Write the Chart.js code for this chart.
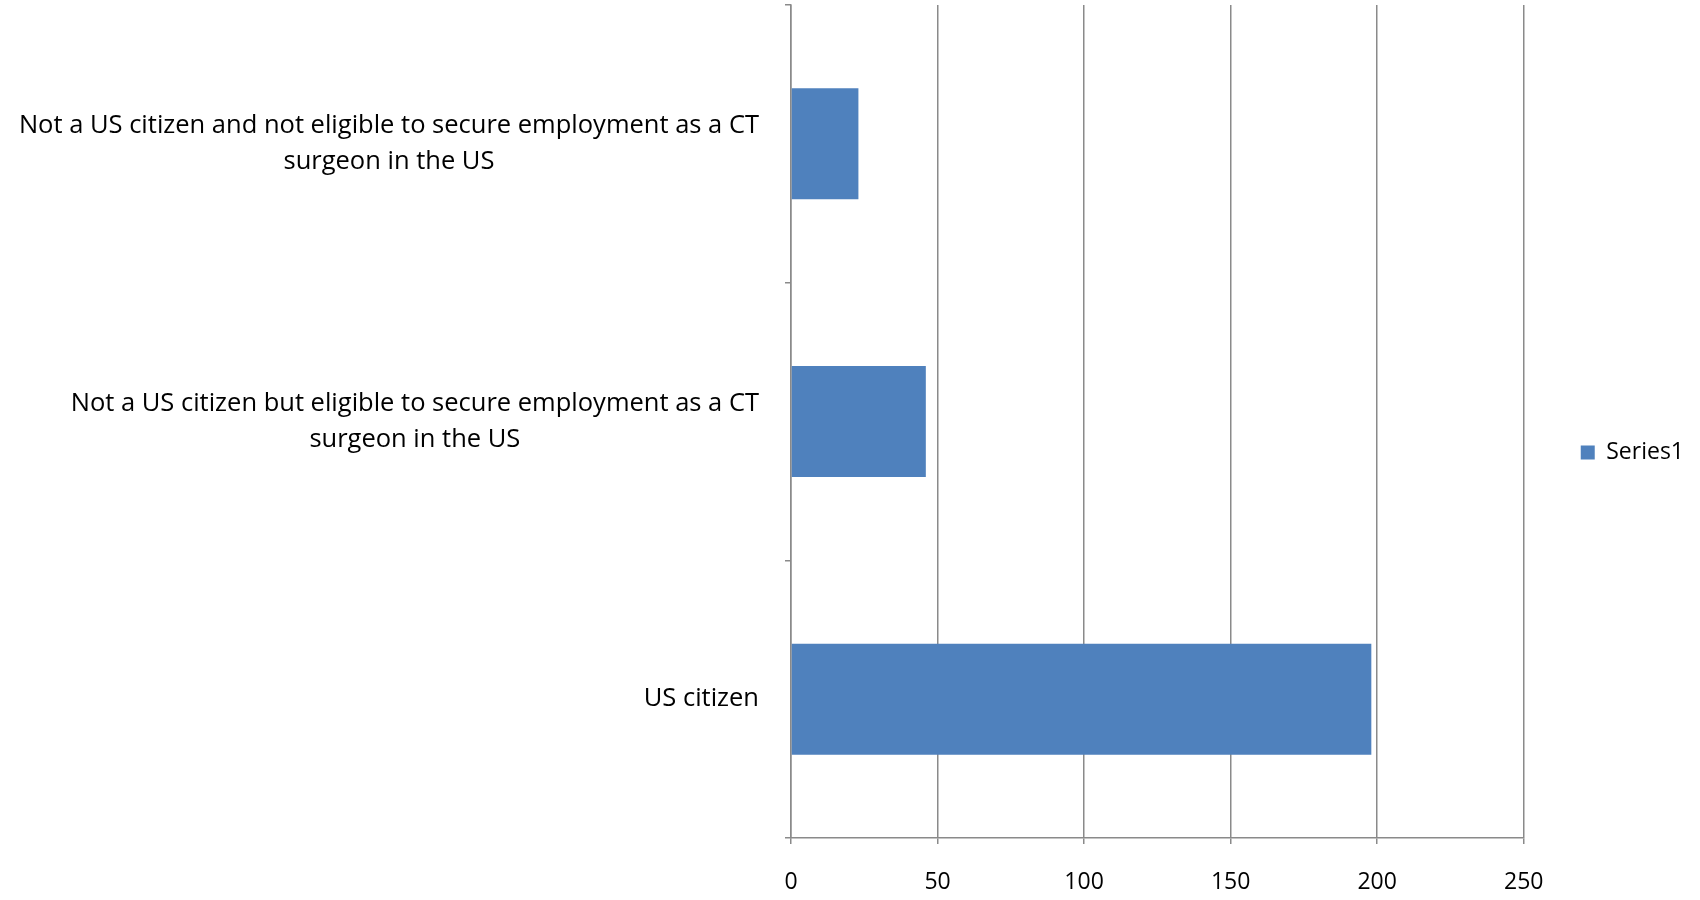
<!DOCTYPE html>
<html>
<head>
<meta charset="utf-8">
<script src="https://cdn.jsdelivr.net/npm/chart.js@4.4.0/dist/chart.umd.min.js"></script>
<style>
  html, body { margin: 0; padding: 0; background: #fff; }
</style>
</head>
<body>
<canvas id="chart" width="1700" height="900"></canvas>
<script>
// data
const categories = [
  ['Not a US citizen and not eligible to secure employment as a CT', 'surgeon in the US'],
  ['Not a US citizen but eligible to secure employment as a CT', 'surgeon in the US'],
  ['US citizen']
];
const values = [23, 46, 198];
const xTicks = [0, 50, 100, 150, 200, 250];
const seriesName = 'Series1';

const FONT = '"Open Sans", Lato, sans-serif';
const GRID = '#8a8a8a';

// category labels: block right-aligned, lines centred inside the block (Excel style)
const catLabels = {
  id: 'catLabels',
  afterDraw(chart) {
    const ctx = chart.ctx;
    const yScale = chart.scales.y;
    const right = chart.chartArea.left - 32;
    ctx.save();
    ctx.font = '25.5px ' + FONT;
    ctx.fillStyle = '#000';
    ctx.textAlign = 'center';
    ctx.textBaseline = 'middle';
    categories.forEach((lines, i) => {
      const w = Math.max(...lines.map(l => ctx.measureText(l).width));
      const cx = right - w / 2;
      const cy = yScale.getPixelForTick(i);
      lines.forEach((l, j) => {
        ctx.fillText(l, cx, cy + (j - (lines.length - 1) / 2) * 36);
      });
    });
    ctx.restore();
  }
};

new Chart(document.getElementById('chart'), {
  type: 'bar',
  data: {
    labels: categories,
    datasets: [{
      label: seriesName,
      data: values,
      backgroundColor: '#4F81BD',
      borderWidth: 0,
      barPercentage: 0.4,
      categoryPercentage: 1
    }]
  },
  options: {
    indexAxis: 'y',
    responsive: false,
    animation: false,
    layout: { padding: { left: 0, right: 6, top: 5, bottom: 0 } },
    scales: {
      x: {
        min: xTicks[0],
        max: xTicks[xTicks.length - 1],
        ticks: {
          stepSize: xTicks[1] - xTicks[0],
          color: '#000',
          font: { family: FONT, size: 23 },
          padding: 25
        },
        grid: { color: GRID, lineWidth: 1.5, tickLength: 6, drawTicks: true },
        border: { color: GRID, width: 1.5 },
        afterFit(scale) { scale.height = 62; }
      },
      y: {
        ticks: { display: false },
        grid: { color: GRID, lineWidth: 1.5, tickLength: 6, drawOnChartArea: false, offset: true },
        border: { color: GRID, width: 1.5 },
        afterFit(scale) { scale.width = 791; }
      }
    },
    plugins: {
      legend: {
        position: 'right',
        labels: {
          boxWidth: 14,
          boxHeight: 14,
          padding: 57,
          color: '#000',
          font: { family: FONT, size: 23 }
        }
      },
      tooltip: { enabled: false }
    }
  },
  plugins: [catLabels]
});
</script>
</body>
</html>
